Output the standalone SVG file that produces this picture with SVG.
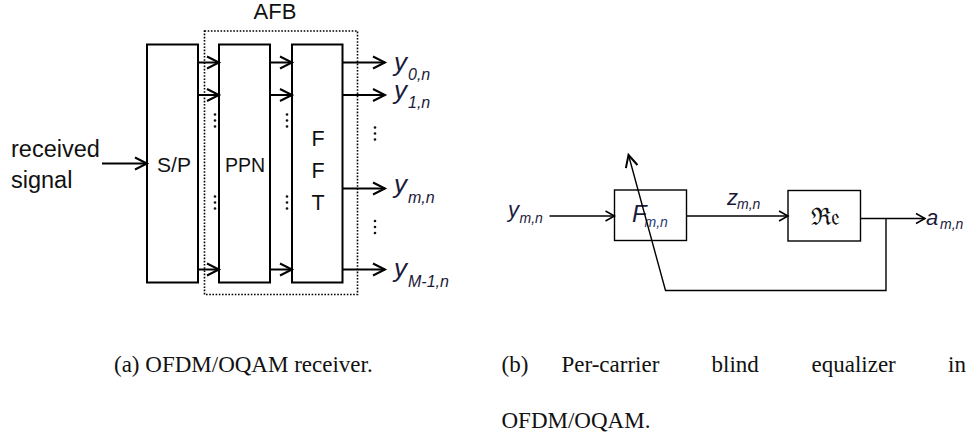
<svg xmlns="http://www.w3.org/2000/svg" width="968" height="438" viewBox="0 0 968 438">
  <style>
    .box { fill: #fff; stroke: #000; stroke-width: 2; }
    .box2 { fill: #fff; stroke: #000; stroke-width: 1.4; }
    .ln { fill: none; stroke: #000; stroke-width: 2; }
    .ln2 { fill: none; stroke: #000; stroke-width: 1.4; }
    .lbl { font-family: "Liberation Sans", Arial, sans-serif; fill: #111; }
    .it { font-family: "Liberation Sans", Arial, sans-serif; font-style: italic; fill: #1a1a3a; }
    .sub { font-size: 16px; }
    .sub2 { font-size: 14px; }
    .cap { font-family: "Liberation Serif", "Times New Roman", serif; font-size: 23px; fill: #111; }
    .dot { fill: #111; }
  </style>
  <defs>
    <marker id="ah" markerUnits="userSpaceOnUse" markerWidth="16" markerHeight="16" refX="12" refY="6" orient="auto" overflow="visible">
      <path d="M0,0 L12,6 L0,12" fill="none" stroke="#000" stroke-width="2"/>
    </marker>
    <marker id="ah2" markerUnits="userSpaceOnUse" markerWidth="14" markerHeight="14" refX="9" refY="5" orient="auto" overflow="visible">
      <path d="M0,0 L9,5 L0,10" fill="none" stroke="#000" stroke-width="1.5"/>
    </marker>
  </defs>

  <!-- (a) OFDM/OQAM receiver -->
  <g id="afb">
    <rect x="204.5" y="31" width="153" height="263.5" fill="none" stroke="#000" stroke-width="1.6" stroke-dasharray="1.6,1.6"/>
    <text class="lbl" x="275" y="19" font-size="22" text-anchor="middle">AFB</text>
  </g>
  <g id="input-label">
    <text class="lbl" x="11" y="157" font-size="23.5">received</text>
    <text class="lbl" x="11" y="188" font-size="23.5">signal</text>
  </g>
  <g id="sp">
    <rect class="box" x="147" y="44.5" width="51" height="238"/>
    <text class="lbl" x="174" y="172" font-size="21" text-anchor="middle">S/P</text>
  </g>
  <g id="ppn">
    <rect class="box" x="219" y="44.5" width="51" height="238"/>
    <text class="lbl" x="245" y="172" font-size="19.5" text-anchor="middle">PPN</text>
  </g>
  <g id="fft">
    <rect class="box" x="292" y="44.5" width="50.5" height="238"/>
    <text class="lbl" x="318" y="146" font-size="21.5" text-anchor="middle">F</text>
    <text class="lbl" x="318" y="177.5" font-size="21.5" text-anchor="middle">F</text>
    <text class="lbl" x="318" y="209.5" font-size="21.5" text-anchor="middle">T</text>
  </g>
  <g id="outputs">
    <text class="it" x="394" y="71" font-size="26">y<tspan class="sub" x="408" y="80">0,n</tspan></text>
    <text class="it" x="394" y="99" font-size="26">y<tspan class="sub" x="408" y="108">1,n</tspan></text>
    <text class="it" x="394" y="193" font-size="26">y<tspan class="sub" x="408" y="203">m,n</tspan></text>
    <text class="it" x="394" y="277" font-size="26">y<tspan class="sub" x="408" y="287">M-1,n</tspan></text>
  </g>
  <g id="dots-a">
    <circle class="dot" cx="215" cy="114.5" r="1.3"/><circle class="dot" cx="215" cy="120.5" r="1.3"/><circle class="dot" cx="215" cy="126.5" r="1.3"/>
    <circle class="dot" cx="215" cy="196.5" r="1.3"/><circle class="dot" cx="215" cy="202.5" r="1.3"/><circle class="dot" cx="215" cy="208.5" r="1.3"/>
    <circle class="dot" cx="287" cy="114.5" r="1.3"/><circle class="dot" cx="287" cy="120.5" r="1.3"/><circle class="dot" cx="287" cy="126.5" r="1.3"/>
    <circle class="dot" cx="287" cy="196.5" r="1.3"/><circle class="dot" cx="287" cy="202.5" r="1.3"/><circle class="dot" cx="287" cy="208.5" r="1.3"/>
    <circle class="dot" cx="375" cy="127.5" r="1.3"/><circle class="dot" cx="375" cy="133.5" r="1.3"/><circle class="dot" cx="375" cy="139.5" r="1.3"/>
    <circle class="dot" cx="375" cy="221" r="1.3"/><circle class="dot" cx="375" cy="227" r="1.3"/><circle class="dot" cx="375" cy="233" r="1.3"/>
  </g>

  <!-- (b) Per-carrier blind equalizer -->
  <g id="f-box">
    <rect class="box2" x="614.5" y="190" width="72" height="50.5"/>
    <text class="it" x="632" y="222" font-size="24" font-style="normal">F<tspan class="sub2" x="644.5" y="227" fill="#2a3a78">m,n</tspan></text>
  </g>
  <g id="re-box">
    <rect class="box2" x="788" y="190.5" width="72.5" height="50.5"/>
    <text x="825" y="225" font-family="DejaVu Serif, serif" font-size="24" text-anchor="middle" fill="#111">ℜ𝔢</text>
  </g>
  <g id="labels-b">
    <text class="it" x="508" y="217" font-size="22">y<tspan class="sub2" x="519.5" y="223">m,n</tspan></text>
    <text class="it" x="727" y="205" font-size="22">z<tspan class="sub2" x="737" y="208.5">m,n</tspan></text>
    <text class="it" x="926" y="224.5" font-size="22">a<tspan class="sub2" x="940" y="228.5">m,n</tspan></text>
  </g>

  <g id="connectors">
    <line class="ln" x1="102" y1="163.5" x2="147" y2="163.5" marker-end="url(#ah)"/>
    <line class="ln" x1="198" y1="62.5" x2="219" y2="62.5" marker-end="url(#ah)"/>
    <line class="ln" x1="198" y1="95" x2="219" y2="95" marker-end="url(#ah)"/>
    <line class="ln" x1="198" y1="269.5" x2="219" y2="269.5" marker-end="url(#ah)"/>
    <line class="ln" x1="270" y1="62.5" x2="292" y2="62.5" marker-end="url(#ah)"/>
    <line class="ln" x1="270" y1="95" x2="292" y2="95" marker-end="url(#ah)"/>
    <line class="ln" x1="270" y1="269.5" x2="292" y2="269.5" marker-end="url(#ah)"/>
    <line class="ln" x1="342.5" y1="62.5" x2="385" y2="62.5" marker-end="url(#ah)"/>
    <line class="ln" x1="342.5" y1="95" x2="385" y2="95" marker-end="url(#ah)"/>
    <line class="ln" x1="342.5" y1="188.5" x2="385" y2="188.5" marker-end="url(#ah)"/>
    <line class="ln" x1="342.5" y1="269.5" x2="385" y2="269.5" marker-end="url(#ah)"/>

    <line class="ln2" x1="549.5" y1="216" x2="614.5" y2="216" marker-end="url(#ah2)"/>
    <line class="ln2" x1="686.5" y1="216" x2="788" y2="216" marker-end="url(#ah2)"/>
    <line class="ln2" x1="860.5" y1="218.5" x2="925" y2="218.5" marker-end="url(#ah2)"/>
    <polyline class="ln2" points="886,218.5 886,290.5 665.5,290.5 628.5,155" marker-end="url(#ah)"/>
  </g>

  <g id="captions">
    <text class="cap" x="114" y="371.5">(a) OFDM/OQAM receiver.</text>
    <text class="cap" x="501.5" y="371.5">(b)</text>
    <text class="cap" x="561.5" y="371.5">Per-carrier</text>
    <text class="cap" x="711.5" y="371.5">blind</text>
    <text class="cap" x="811.5" y="371.5">equalizer</text>
    <text class="cap" x="948" y="371.5">in</text>
    <text class="cap" x="501.5" y="428">OFDM/OQAM.</text>
  </g>
</svg>
